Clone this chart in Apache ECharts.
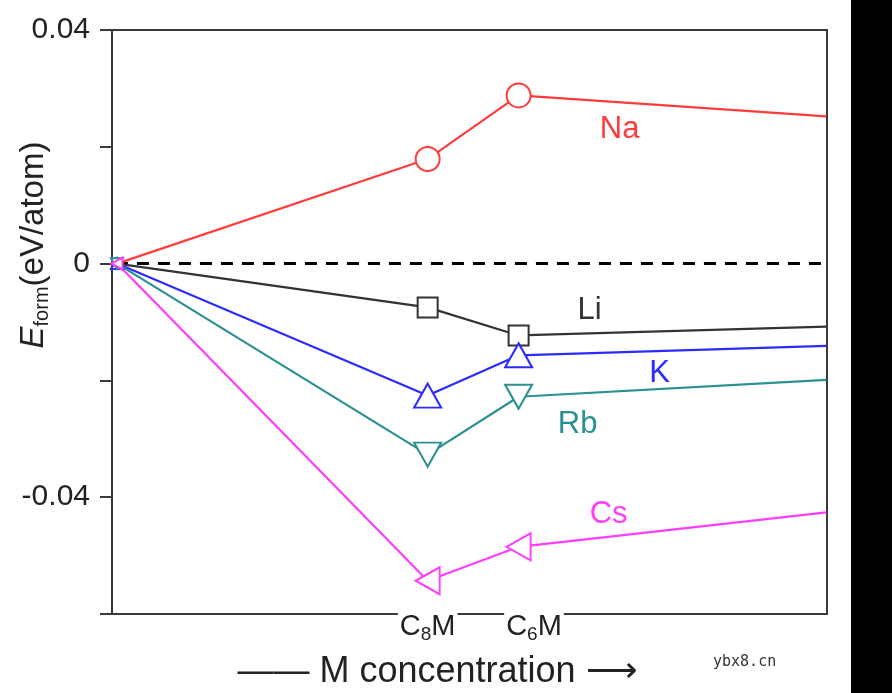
<!DOCTYPE html>
<html>
<head>
<meta charset="utf-8">
<script src="https://cdn.jsdelivr.net/npm/echarts@6/dist/echarts.min.js"></script>
<style>
html,body{margin:0;padding:0;background:#fff;}
#chart{width:892px;height:693px;}
</style>
</head>
<body>
<div id="chart"></div>
<script>
// M concentration (x) for: pure graphite, C8M, C6M, right edge of the range
const xValues = [0, 0.111, 0.1435, 0.2535];
const seriesNames = ['Na', 'Li', 'K', 'Rb', 'Cs'];
const naValues = [0, 0.0179, 0.0288, 0.0252];
const liValues = [0, -0.0075, -0.0123, -0.0108];
const kValues = [0, -0.0226, -0.0157, -0.0141];
const rbValues = [0, -0.0327, -0.0228, -0.0199];
const csValues = [0, -0.0543, -0.0485, -0.0426];
const xTickValues = [0.111, 0.149];
const xTickLabels = ['C8M', 'C6M'];
const yLabelValues = [0.04, 0, -0.04];
const yLabelTexts = ['0.04', '0', '-0.04'];
const zeroLineX = [-0.0079, 0.262];

const FONT = 'Liberation Sans, Arial, sans-serif';

function pts(vals){ return vals.map((v,i)=>[xValues[i], v]); }

const styles = {
  Na: {color:'#ff3b3b', symbol:'circle', size:24, rotate:0, off:[101,34]},
  Li: {color:'#333333', symbol:'rect', size:20, rotate:0, off:[71,-25]},
  K:  {color:'#2b2bff', symbol:'triangle', size:[27,24], rotate:0, off:[141,18]},
  Rb: {color:'#2a9090', symbol:'triangle', size:[27,24], rotate:180, off:[59,28]},
  Cs: {color:'#ff3dff', symbol:'triangle', size:[27,24], rotate:90, off:[90,-32]}
};
const valuesByName = {Na:naValues, Li:liValues, K:kValues, Rb:rbValues, Cs:csValues};

const series = seriesNames.map(name=>{
  const st = styles[name];
  const arr = valuesByName[name];
  const data = pts(arr).map((p,i)=>{
    const d = {value:p};
    if(i===0){ d.symbolSize = Array.isArray(st.size) ? [st.size[0]*0.45, st.size[1]*0.45] : st.size*0.45; }
    if(i===arr.length-1){ d.symbol = 'none'; }
    if(i===2){
      d.label = {show:true, position:'inside', offset:st.off, formatter:name,
        color:st.color, fontSize:31, fontFamily:FONT};
    }
    return d;
  });
  return {
    name:name, type:'line', data:data, z:3,
    symbol:st.symbol, symbolSize:st.size, symbolRotate:st.rotate, showAllSymbol:true,
    lineStyle:{color:st.color, width:2.2},
    itemStyle:{color:'#ffffff', borderColor:st.color, borderWidth:2},
    emphasis:{disabled:true},
    animation:false
  };
});

series.unshift({
  type:'line', data:[[zeroLineX[0],0],[zeroLineX[1],0]], clip:false, symbol:'none', z:2,
  lineStyle:{color:'#000', width:3, type:[12,9]}, animation:false, silent:true
});

const chart = echarts.init(document.getElementById('chart'), null, {renderer:'canvas'});
chart.setOption({
  backgroundColor:'#ffffff',
  animation:false,
  grid:{left:112, right:65, top:30, bottom:79, containLabel:false, outerBoundsMode:'none'},
  xAxis:[{
    type:'value', min:-0.0018, max:0.2537, position:'bottom',
    axisLine:{show:true, onZero:false, lineStyle:{color:'#3a3a3a', width:2}},
    axisTick:{show:false}, splitLine:{show:false},
    axisLabel:{
      customValues:xTickValues, margin:-4, color:'#222', fontSize:29, fontFamily:FONT,
      backgroundColor:'#ffffff', padding:[0,2,0,2],
      formatter:(v)=>{
        const i = xTickValues.findIndex(t=>Math.abs(t-v)<1e-6);
        if(i<0) return '';
        const s = xTickLabels[i];
        return '{m|'+s[0]+'}{s|'+s[1]+'}{m|'+s.slice(2)+'}';
      },
      rich:{
        m:{fontSize:29, fontFamily:FONT, color:'#222', backgroundColor:'#fff'},
        s:{fontSize:19, fontFamily:FONT, color:'#222', padding:[15,0,0,0], backgroundColor:'#fff'}
      }
    },
    name:'—— M concentration ⟶', nameLocation:'middle', nameGap:40, nameMoveOverlap:false,
    nameTextStyle:{fontSize:36, fontFamily:FONT, color:'#222', padding:[0,64,0,0]}
  },{
    type:'value', min:-0.0018, max:0.2537, position:'top',
    axisLine:{show:true, onZero:false, lineStyle:{color:'#3a3a3a', width:2}},
    axisTick:{show:false}, axisLabel:{show:false}, splitLine:{show:false}
  }],
  yAxis:[{
    type:'value', min:-0.06, max:0.04, interval:0.02, position:'left',
    axisLine:{show:true, onZero:false, lineStyle:{color:'#3a3a3a', width:2}},
    axisTick:{show:true, inside:false, length:12, lineStyle:{color:'#3a3a3a', width:2}},
    splitLine:{show:false},
    axisLabel:{
      margin:22, color:'#222', fontSize:30, fontFamily:FONT,
      formatter:(v)=>{
        const i = yLabelValues.findIndex(t=>Math.abs(t-v)<1e-9);
        return i<0 ? '' : yLabelTexts[i];
      }
    },
    name:'{e|E}{s|form}{n|(eV/atom)}', nameLocation:'middle', nameRotate:90, nameGap:60,
    nameMoveOverlap:false,
    nameTextStyle:{
      padding:[0,0,0,154],
      rich:{
        e:{fontSize:33, fontFamily:FONT, fontStyle:'italic', color:'#222'},
        s:{fontSize:20, fontFamily:FONT, color:'#222', padding:[16,0,0,0]},
        n:{fontSize:33, fontFamily:FONT, color:'#222'}
      }
    }
  },{
    type:'value', min:-0.06, max:0.04, position:'right',
    axisLine:{show:true, onZero:false, lineStyle:{color:'#3a3a3a', width:2}},
    axisTick:{show:false}, axisLabel:{show:false}, splitLine:{show:false}
  }],
  series:series,
  graphic:[
    {type:'rect', right:0, top:0, shape:{width:41, height:693}, style:{fill:'#000'}, z:100},
    {type:'text', left:713, top:655, style:{text:'ybx8.cn', font:'15px "DejaVu Sans Mono", monospace', fill:'#333'}, z:100}
  ]
});
</script>
</body>
</html>
